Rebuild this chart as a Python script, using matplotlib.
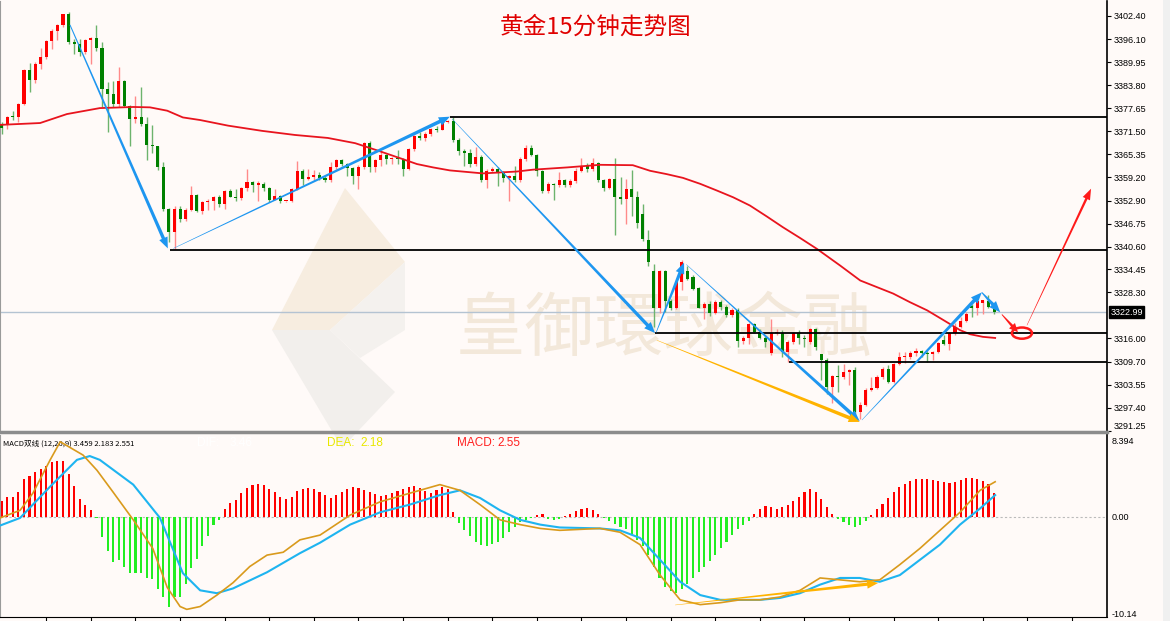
import matplotlib
matplotlib.use("Agg")
import matplotlib.pyplot as plt
from matplotlib.patches import Polygon, Ellipse
from matplotlib.transforms import IdentityTransform
import numpy as np

plt.rcParams['font.family'] = ['Noto Sans CJK SC', 'DejaVu Sans']

# 15-minute gold candles
opens = [3373.5, 3373.3, 3375.4, 3375.2, 3378.8, 3388.0, 3385.3, 3389.5, 3391.3, 3395.7,
         3398.4, 3400.0, 3402.8, 3395.3, 3394.8, 3392.6, 3395.9, 3396.4, 3393.9, 3382.8,
         3381.6, 3378.8, 3385.0, 3378.3, 3374.8, 3375.4, 3373.4, 3367.9, 3367.5, 3361.8,
         3350.7, 3344.5, 3350.7, 3348.0, 3350.5, 3354.3, 3350.1, 3352.5, 3352.7, 3354.0,
         3351.9, 3355.6, 3354.0, 3353.7, 3356.3, 3358.0, 3357.2, 3357.4, 3356.3, 3353.1,
         3354.2, 3352.7, 3352.7, 3356.0, 3360.9, 3358.7, 3359.2, 3359.9, 3359.0, 3358.3,
         3361.8, 3363.8, 3362.7, 3361.7, 3359.4, 3362.0, 3368.3, 3361.8, 3363.8, 3365.0,
         3364.1, 3364.3, 3364.0, 3361.4, 3366.7, 3370.3, 3369.8, 3370.8, 3372.1, 3371.9,
         3373.9, 3374.3, 3369.1, 3366.1, 3365.8, 3362.7, 3364.7, 3358.5, 3360.8, 3361.4,
         3360.2, 3359.0, 3359.5, 3358.5, 3364.1, 3367.0, 3365.2, 3360.8, 3355.6, 3357.4,
         3357.0, 3358.3, 3357.2, 3358.1, 3360.8, 3362.3, 3361.5, 3362.9, 3358.5, 3356.3,
         3358.6, 3353.8, 3353.4, 3356.0, 3354.0, 3349.4, 3342.4, 3334.0, 3324.0, 3334.0,
         3326.0, 3324.0, 3331.1, 3334.0, 3332.4, 3329.5, 3324.2, 3325.1, 3322.8, 3325.8,
         3324.4, 3322.2, 3323.7, 3315.3, 3316.2, 3319.8, 3317.7, 3316.2, 3312.0, 3317.5,
         3317.5, 3312.4, 3315.0, 3317.3, 3316.2, 3315.0, 3318.6, 3311.8, 3310.3, 3303.0,
         3305.9, 3305.6, 3307.0, 3307.6, 3296.3, 3298.1, 3302.1, 3302.8, 3305.7, 3307.9,
         3304.4, 3309.2, 3310.9, 3311.1, 3312.1, 3312.6, 3312.1, 3311.7, 3312.4, 3315.6,
         3314.6, 3317.3, 3319.1, 3320.7, 3324.6, 3324.0, 3325.5, 3326.0, 3324.4]
highs = [3374.0, 3375.6, 3377.0, 3379.0, 3388.2, 3389.9, 3390.0, 3393.9, 3396.0, 3398.8,
         3400.2, 3403.0, 3403.5, 3396.2, 3396.2, 3396.2, 3396.8, 3400.0, 3395.3, 3384.6,
         3385.0, 3388.6, 3385.2, 3378.5, 3381.0, 3383.4, 3375.2, 3373.3, 3367.6, 3363.2,
         3351.0, 3351.5, 3351.5, 3350.8, 3356.7, 3354.8, 3352.8, 3353.4, 3354.1, 3354.5,
         3355.8, 3356.0, 3356.0, 3356.5, 3361.4, 3358.1, 3358.1, 3358.0, 3356.6, 3356.0,
         3354.5, 3352.9, 3356.3, 3363.6, 3361.4, 3361.4, 3361.1, 3360.5, 3359.5, 3363.2,
         3364.0, 3364.1, 3363.1, 3361.9, 3362.5, 3368.5, 3368.8, 3364.0, 3366.3, 3365.4,
         3364.7, 3366.5, 3364.3, 3367.0, 3370.5, 3371.2, 3371.2, 3372.4, 3373.0, 3374.3,
         3374.5, 3375.4, 3369.7, 3366.7, 3366.7, 3367.2, 3365.0, 3361.4, 3362.0, 3362.0,
         3360.9, 3359.8, 3362.3, 3364.5, 3367.9, 3367.9, 3365.5, 3361.0, 3357.8, 3357.6,
         3360.5, 3358.6, 3358.6, 3361.7, 3364.3, 3362.9, 3364.3, 3363.2, 3358.8, 3359.0,
         3364.2, 3359.2, 3358.7, 3361.0, 3355.4, 3352.0, 3345.1, 3336.0, 3334.4, 3334.4,
         3326.5, 3331.3, 3337.0, 3335.5, 3332.9, 3329.7, 3325.8, 3326.0, 3326.2, 3326.4,
         3324.8, 3324.2, 3324.0, 3316.6, 3320.1, 3320.1, 3318.6, 3316.6, 3321.3, 3318.6,
         3318.2, 3315.5, 3317.7, 3318.2, 3316.8, 3318.8, 3318.8, 3311.8, 3310.8, 3306.2,
         3308.8, 3309.2, 3307.9, 3308.2, 3299.0, 3302.6, 3305.7, 3306.1, 3308.2, 3308.8,
         3309.5, 3312.4, 3312.4, 3312.6, 3313.5, 3312.8, 3312.6, 3312.6, 3315.1, 3316.8,
         3317.7, 3320.1, 3321.6, 3323.1, 3325.3, 3326.2, 3326.4, 3327.5, 3324.6]
lows = [3370.8, 3372.1, 3374.5, 3374.1, 3378.5, 3381.9, 3384.5, 3388.1, 3390.8, 3393.5,
        3395.9, 3399.5, 3394.8, 3392.3, 3391.7, 3392.3, 3389.5, 3393.0, 3378.0, 3371.2,
        3377.9, 3378.0, 3378.0, 3367.6, 3373.6, 3373.0, 3363.8, 3365.6, 3361.0, 3350.0,
        3341.8, 3340.0, 3347.1, 3347.4, 3350.0, 3349.8, 3349.4, 3350.3, 3350.3, 3351.3,
        3350.7, 3353.8, 3352.9, 3353.1, 3355.6, 3355.2, 3352.9, 3355.6, 3352.5, 3353.0,
        3352.2, 3352.5, 3352.5, 3355.8, 3357.0, 3358.3, 3358.5, 3358.4, 3357.8, 3357.8,
        3361.5, 3362.3, 3359.6, 3357.4, 3356.0, 3361.5, 3360.5, 3360.5, 3362.3, 3362.7,
        3362.7, 3362.7, 3359.4, 3361.0, 3366.3, 3369.1, 3369.0, 3370.3, 3371.2, 3371.7,
        3373.6, 3368.5, 3365.2, 3362.3, 3362.0, 3362.3, 3358.0, 3356.3, 3360.5, 3356.7,
        3358.0, 3352.9, 3358.0, 3358.0, 3363.5, 3364.8, 3359.4, 3355.0, 3355.0, 3353.1,
        3356.5, 3356.6, 3356.6, 3357.6, 3360.5, 3360.5, 3360.8, 3358.0, 3355.6, 3355.9,
        3343.6, 3352.0, 3346.7, 3348.9, 3345.6, 3342.0, 3335.5, 3319.0, 3322.8, 3323.0,
        3323.5, 3323.8, 3328.9, 3331.6, 3329.0, 3324.0, 3321.3, 3322.0, 3322.5, 3323.5,
        3321.8, 3321.7, 3313.7, 3314.6, 3314.6, 3317.3, 3315.8, 3313.7, 3311.5, 3317.0,
        3311.0, 3309.7, 3314.6, 3314.6, 3313.7, 3314.6, 3313.0, 3304.8, 3301.2, 3298.6,
        3301.7, 3305.0, 3303.5, 3295.5, 3294.5, 3297.8, 3301.8, 3302.5, 3305.0, 3304.0,
        3304.0, 3308.8, 3309.4, 3310.5, 3311.2, 3311.0, 3309.7, 3310.1, 3312.0, 3314.2,
        3312.8, 3317.0, 3318.8, 3320.3, 3321.7, 3322.2, 3322.6, 3324.0, 3322.5]
closes = [3372.5, 3375.4, 3375.2, 3378.8, 3388.0, 3385.3, 3389.5, 3391.3, 3395.7, 3398.4,
          3400.0, 3402.8, 3395.3, 3394.8, 3392.6, 3395.9, 3396.4, 3393.9, 3382.8, 3381.6,
          3378.8, 3385.0, 3378.3, 3374.8, 3375.4, 3373.4, 3367.9, 3367.5, 3361.8, 3350.7,
          3344.5, 3350.7, 3348.0, 3350.5, 3354.3, 3350.1, 3352.5, 3352.7, 3354.0, 3351.9,
          3355.6, 3354.0, 3353.7, 3356.3, 3358.0, 3357.2, 3357.4, 3356.3, 3353.1, 3354.2,
          3352.7, 3352.7, 3356.0, 3360.9, 3358.7, 3359.2, 3359.9, 3359.0, 3358.3, 3361.8,
          3363.8, 3362.7, 3361.7, 3359.4, 3362.0, 3368.3, 3361.8, 3363.8, 3365.0, 3364.1,
          3364.3, 3364.0, 3361.4, 3366.7, 3370.3, 3369.8, 3370.8, 3372.1, 3371.9, 3373.9,
          3374.3, 3369.1, 3366.1, 3365.8, 3362.7, 3364.7, 3358.5, 3360.8, 3361.4, 3360.2,
          3359.0, 3359.5, 3358.5, 3364.1, 3367.0, 3365.2, 3360.8, 3355.6, 3357.4, 3357.0,
          3358.3, 3357.2, 3358.1, 3360.8, 3362.3, 3361.5, 3362.9, 3358.5, 3356.3, 3358.6,
          3353.8, 3353.4, 3356.0, 3354.0, 3346.9, 3342.7, 3336.4, 3324.0, 3334.0, 3326.0,
          3324.0, 3331.1, 3336.4, 3332.0, 3329.3, 3324.2, 3325.1, 3322.8, 3325.8, 3324.4,
          3322.2, 3323.7, 3315.3, 3316.2, 3319.8, 3317.7, 3316.2, 3315.0, 3317.5, 3317.8,
          3312.4, 3315.0, 3317.3, 3316.2, 3315.8, 3318.6, 3313.8, 3310.1, 3303.0, 3305.9,
          3305.6, 3307.0, 3307.6, 3296.3, 3298.1, 3302.1, 3302.8, 3305.7, 3307.9, 3304.4,
          3309.2, 3310.9, 3311.1, 3312.1, 3312.6, 3312.1, 3311.7, 3312.4, 3314.8, 3314.6,
          3317.3, 3319.1, 3320.7, 3322.6, 3324.0, 3326.0, 3326.2, 3324.4, 3323.0]

# moving average (red line), read at candle positions
ma_idx = [-0.3, 6.9, 11.7, 17.6, 23.6, 26.6, 29.7, 32.5, 35.6, 40.6, 46.7, 52.6, 58.5,
          63.4, 67.5, 71.8, 74.5, 77.4, 80.4, 86.3, 92.4, 95.3, 101.4, 107.3, 113.2,
          116.3, 119.3, 122.2, 125.3, 128.3, 131.2, 134.2, 137.3, 140.1, 143.2, 146.2,
          150.4, 154.0, 159.9, 162.9, 166.0, 168.8, 171.9, 173.7, 176.0, 178.2]
ma_val = [3373.2, 3373.7, 3376.1, 3377.7, 3378.0, 3377.9, 3377.0, 3375.2, 3374.5, 3373.0,
          3371.6, 3370.5, 3369.7, 3368.3, 3366.3, 3364.1, 3362.7, 3361.8, 3361.0, 3360.2,
          3360.7, 3361.2, 3361.8, 3362.5, 3362.4, 3360.9, 3360.0, 3359.0, 3357.4, 3355.6,
          3353.8, 3351.6, 3348.6, 3345.8, 3342.9, 3340.0, 3335.5, 3331.5, 3328.0, 3325.7,
          3323.5, 3321.0, 3318.2, 3317.1, 3316.4, 3316.1]

price_ticks = [3402.40, 3396.10, 3389.95, 3383.80, 3377.65, 3371.50, 3365.35, 3359.20,
               3352.90, 3346.75, 3340.60, 3334.45, 3328.30, 3316.00, 3309.70, 3303.55,
               3297.40, 3291.25]
last_price = 3322.99

# MACD histogram per candle
macd_hist = [1.72, 2.07, 2.14, 2.6, 3.96, 4.3, 4.76, 5.0, 5.4, 5.8, 5.9, 5.9, 4.5, 3.26,
             1.86, 1.26, 0.74, -0.07,
             -2.07, -3.54, -4.69, -4.52, -5.2, -5.85, -5.9, -5.9, -6.44, -6.55, -7.6, -8.4,
             -9.45, -8.4, -8.4, -7.0, -5.4, -4.4, -3.0, -2.0, -0.84, -0.3,
             0.8, 1.43, 1.78, 2.5, 3.0, 3.36, 3.47, 3.36, 2.9, 2.6, 2.14, 1.86, 2.07, 2.77,
             2.9, 3.0, 2.9, 2.6, 2.3, 2.0, 2.3, 2.6, 2.9, 3.1, 3.0, 2.8, 2.6, 2.4, 2.2, 2.3,
             2.5, 2.7, 2.9, 3.1, 3.3, 3.0, 2.7, 2.5, 2.8, 3.1, 2.9,
             0.5, -0.6, -1.4, -2.0, -2.6, -2.9, -3.0, -2.8, -2.6, -2.2, -1.6, -1.0,
             -0.5, -0.3, -0.1, 0.2, 0.3, -0.2, -0.3, -0.2, 0.1, 0.3, 0.6, 0.8,
             0.9, 0.7, 0.3, -0.1, -0.4, -0.7, -1.0, -1.3, -1.8, -2.4, -3.0,
             -4.0, -5.2, -6.4, -7.3, -7.8, -8.0, -7.6, -7.0, -6.4, -5.8, -5.2, -4.6, -4.0,
             -3.3, -2.6, -1.9, -1.3, -0.8,
             -0.4, 0.3, 0.8, 1.2, 1.0, 0.8, 1.0, 1.3, 1.7, 2.1, 2.6, 2.9, 2.6, 1.9, 1.0, 0.3,
             -0.2,
             -0.5, -0.8, -1.0, -0.8, -0.4, 0.2, 0.8,
             1.4, 2.0, 2.6, 3.1, 3.5, 3.8, 4.0, 4.0, 4.0, 3.9, 3.8, 3.7, 3.6, 3.7, 3.9, 4.1,
             4.1, 4.0, 3.8, 3.5, 2.55]

dif_idx = [-0.3, 3.3, 5.6, 8.7, 10.5, 14.6, 17.1, 20.0, 23.6, 27.1, 29.7, 32.0, 33.2, 35.6,
           38.6, 41.5, 44.5, 47.6, 50.5, 53.5, 57.1, 62.5, 67.9, 73.2, 78.6, 82.2, 85.8,
           89.4, 93.0, 96.6, 100.1, 107.3, 110.9, 114.5, 118.1, 121.7, 125.3, 128.9, 132.4,
           136.0, 139.6, 143.2, 146.8, 150.4, 153.9, 157.5, 161.1, 164.7, 168.3, 171.9,
           175.5, 178.2]
dif_val = [-0.1, 0.7, 2.5, 6.0, 7.9, 6.5, 4.9, 2.6, -0.3, -3.3, -7.4, -9.4, -9.7, -9.4,
           -8.2, -6.9, -5.2, -4.0, -3.7, -2.4, -1.9, 0.2, 1.6, 2.5, 3.4, 2.8, 1.3, -0.3,
           -0.8, -1.2, -1.4, -1.2, -1.6, -2.9, -6.1, -8.7, -9.2, -9.0, -8.7, -8.7, -8.4,
           -7.7, -6.4, -6.6, -6.8, -6.6, -5.0, -3.3, -1.4, 0.5, 2.8, 3.7]
dea_idx = [-0.3, 3.3, 8.7, 13.5, 15.8, 17.6, 23.6, 28.4, 32.5, 35.6, 38.6, 41.5, 47.6,
           53.5, 57.1, 62.5, 67.9, 73.2, 78.6, 82.2, 85.8, 89.4, 93.0, 96.6, 100.1, 107.3,
           110.9, 114.5, 118.1, 121.7, 125.3, 128.9, 132.4, 136.0, 139.6, 143.2, 146.8,
           150.4, 153.9, 157.5, 161.1, 164.7, 168.3, 171.9, 175.5, 178.2]
dea_val = [-0.9, -0.1, 3.2, 6.0, 6.4, 6.0, 3.4, -0.1, -5.9, -7.7, -8.0, -7.5, -5.8, -3.8,
           -2.7, -0.8, 0.5, 1.3, 2.3, 2.8, 2.0, 0.7, -0.3, -0.8, -1.1, -1.2, -1.4, -2.2,
           -4.5, -6.8, -8.2, -8.7, -8.7, -8.7, -8.5, -8.0, -7.1, -6.4, -6.4, -6.8, -6.1,
           -4.5, -2.9, -0.8, 0.9, 2.3]
macd_ticks = [8.394, 0.0, -10.14]
macd_tick_labels = ['8.394', '0.00', '-10.14']

W, H = 1170, 621
BG = '#FFFAF8'
fig = plt.figure(figsize=(W / 100, H / 100), dpi=100)
fig.patch.set_facecolor(BG)

# background layer in pixel coords (faint logo behind the candles)
bg = fig.add_axes([0, 0, 1, 1], zorder=0)
bg.set_xlim(0, W)
bg.set_ylim(H, 0)
bg.axis('off')
bg.add_patch(Polygon([(345, 188), (405, 262), (330, 330), (272, 330)], closed=True,
                     facecolor='#F7EDE0', edgecolor='none'))
bg.add_patch(Polygon([(272, 330), (330, 330), (395, 392), (342, 448)], closed=True,
                     facecolor='#F2EFEC', edgecolor='none'))
bg.add_patch(Polygon([(330, 330), (405, 262), (405, 330), (360, 358)], closed=True,
                     facecolor='#F4F1EE', edgecolor='none'))
bg.add_patch(Polygon([(1163, 0), (1170, 0), (1170, 621), (1163, 621)], closed=True,
                     facecolor='#F0F0F0', edgecolor='none'))

x = np.arange(len(closes))
L_PX, R_PX = 0, 1107
ax = fig.add_axes([L_PX / W, (H - 432) / H, (R_PX - L_PX) / W, 431 / H], zorder=1)
ax.set_facecolor('none')
ax.set_xlim(-0.3, 198.26)
ax.set_ylim(3290.9, 3406.4)

o = np.array(opens); c = np.array(closes)
up = c >= o
body_col = np.where(up, '#FF0000', '#008000')
wick_col = np.where(up, '#FF8A8A', '#6DB36D')
ax.vlines(x, lows, highs, colors=wick_col, lw=1, zorder=3)
bot = np.minimum(o, c)
hgt = np.maximum(np.abs(c - o), 0.3)
ax.bar(x, hgt, bottom=bot, width=0.55, color=body_col, lw=0, zorder=4)

ax.plot(ma_idx, ma_val, color='#E8141E', lw=1.3, zorder=5)

# support / resistance lines
for xs, lvl in [(80.4, 3375.4), (30.2, 3339.8), (117.2, 3317.4), (141.2, 3309.6)]:
    ax.hlines(lvl, xs, 198.26, color='black', lw=1.3, zorder=6)
ax.axhline(last_price, color='#B4C3D2', lw=1, zorder=2)

# watermark
ax.text(0.6, 0.236, '皇御環球金融', transform=ax.transAxes, fontsize=50,
        family=['Noto Sans CJK TC', 'DejaVu Sans'], color='#F3E8DA', ha='center',
        va='center', zorder=0.5)

ax.set_yticks(price_ticks)
ax.set_yticklabels([f'{v:.2f}' for v in price_ticks])
ax.yaxis.tick_right()
ax.tick_params(axis='y', length=3, width=0.8, colors='black', labelsize=6.5, pad=2)
for lab in ax.get_yticklabels():
    lab.set_family(['Liberation Sans'])
ax.get_yticklabels()[-1].set_va('bottom')
ax.set_xticks([])
ax.text(1.003, last_price, f'{last_price:.2f}', transform=ax.get_yaxis_transform(),
        fontsize=6.5, family=['Liberation Sans'], color='white', va='center', ha='left',
        bbox=dict(boxstyle='square,pad=0.15', fc='black', ec='black'), zorder=10,
        clip_on=False)
ax.spines['right'].set_color('black')
ax.spines['right'].set_linewidth(1.2)
ax.spines['left'].set_color('#9A9A9A')
ax.spines['top'].set_visible(False)
ax.spines['bottom'].set_color('#8C8C8C')
ax.spines['bottom'].set_linewidth(2.5)

ax.text(596 / 1107, 0.94, '黄金15分钟走势图', transform=ax.transAxes, color='#E00000',
        fontsize=17, ha='center', va='center')


def taper(axis, p0, p1, color, w0=0.5, w1=3.2, hl=11, hw=9):
    t = axis.transData
    a = np.array(t.transform(p0)); b = np.array(t.transform(p1))
    u = (b - a) / np.hypot(*(b - a)); n = np.array([-u[1], u[0]])
    base = b - u * hl
    pts = [a + n * w0 / 2, base + n * w1 / 2, base + n * hw / 2, b,
           base - n * hw / 2, base - n * w1 / 2, a - n * w0 / 2]
    axis.add_patch(Polygon(pts, closed=True, transform=IdentityTransform(),
                           facecolor=color, edgecolor='none', zorder=7))


BLUE = '#1E96F0'
taper(ax, (12.25, 3400.0), (29.8, 3340.1), BLUE, w0=1.0, w1=3.4)
taper(ax, (30.8, 3340.1), (80.4, 3375.4), BLUE, w0=0.4, w1=3.6)
taper(ax, (80.8, 3374.8), (117.2, 3317.4), BLUE, w0=0.4, w1=3.4)
taper(ax, (117.4, 3317.6), (122.4, 3336.3), BLUE, w0=0.6, w1=3.4)
taper(ax, (122.8, 3335.8), (153.9, 3293.8), BLUE, w0=0.4, w1=3.6)
taper(ax, (154.3, 3294.1), (175.8, 3328.3), BLUE, w0=0.4, w1=3.6)
taper(ax, (175.8, 3328.3), (179.1, 3323.0), BLUE, w0=1.0, w1=3.4)
taper(ax, (117.5, 3315.5), (153.9, 3293.6), '#FFB300', w0=0.4, w1=3.6)
taper(ax, (179.4, 3322.4), (182.3, 3317.6), '#FF1A1A', w0=0.8, w1=2.6, hl=9, hw=8)
taper(ax, (183.9, 3319.5), (195.4, 3356.1), '#FF1A1A', w0=0.4, w1=2.4, hl=11, hw=8)
ax.add_patch(Ellipse((183.0, 3317.4), 3.6, 3.0, fill=False, ec='#FF1A1A', lw=1.8, zorder=7))

# MACD panel
m = fig.add_axes([L_PX / W, 4 / H, (R_PX - L_PX) / W, 182 / H], zorder=1)
m.set_facecolor('none')
m.set_xlim(-0.3, 198.26)
m.set_ylim(-10.5, 8.61)
hist = np.array(macd_hist)
m.bar(x, hist, width=0.38, color=np.where(hist >= 0, '#FF0000', '#22EE22'), lw=0, zorder=3)
m.axhline(0, color='#BBBBBB', lw=0.8, ls=(0, (2, 2)), zorder=2)
m.plot(dea_idx, dea_val, color='#1EB4F0', lw=1.5, zorder=4)
m.plot(dif_idx, dif_val, color='#D99A1C', lw=1.2, zorder=5)
taper(m, (120.8, -9.24), (157.2, -6.93), '#FFB300', w0=0.4, w1=3.2)

m.set_yticks(macd_ticks)
m.set_yticklabels(macd_tick_labels)
m.yaxis.tick_right()
m.tick_params(axis='y', length=0, labelsize=6.5, pad=3)
for lab in m.get_yticklabels():
    lab.set_family(['Liberation Sans'])
m.get_yticklabels()[0].set_va('top')
m.set_xticks(np.arange(8, 199, 8))
m.set_xticklabels([])
m.tick_params(axis='x', length=3, width=0.8, direction='out')
m.spines['right'].set_color('black')
m.spines['right'].set_linewidth(1.2)
m.spines['left'].set_color('#9A9A9A')
m.spines['top'].set_visible(False)
m.spines['bottom'].set_color('black')

m.text(0.003, 0.975, 'MACD双线 (12,26,9) 3.459 2.183 2.551', transform=m.transAxes,
       fontsize=5.5, va='top', ha='left', color='black')
for px, s, col in [(197, 'DIF:', 'white'), (230, '3.46', 'white'),
                   (327, 'DEA:', '#E8E800'), (360, '2.18', '#E8E800'),
                   (457, 'MACD:', '#FF2020'), (497, '2.55', '#FF2020')]:
    m.text(px / 1107, 0.955, s, transform=m.transAxes, fontsize=8.5,
           family=['Liberation Sans'], color=col, va='center', ha='left')

fig.savefig('out.png', dpi=100, facecolor=BG)
